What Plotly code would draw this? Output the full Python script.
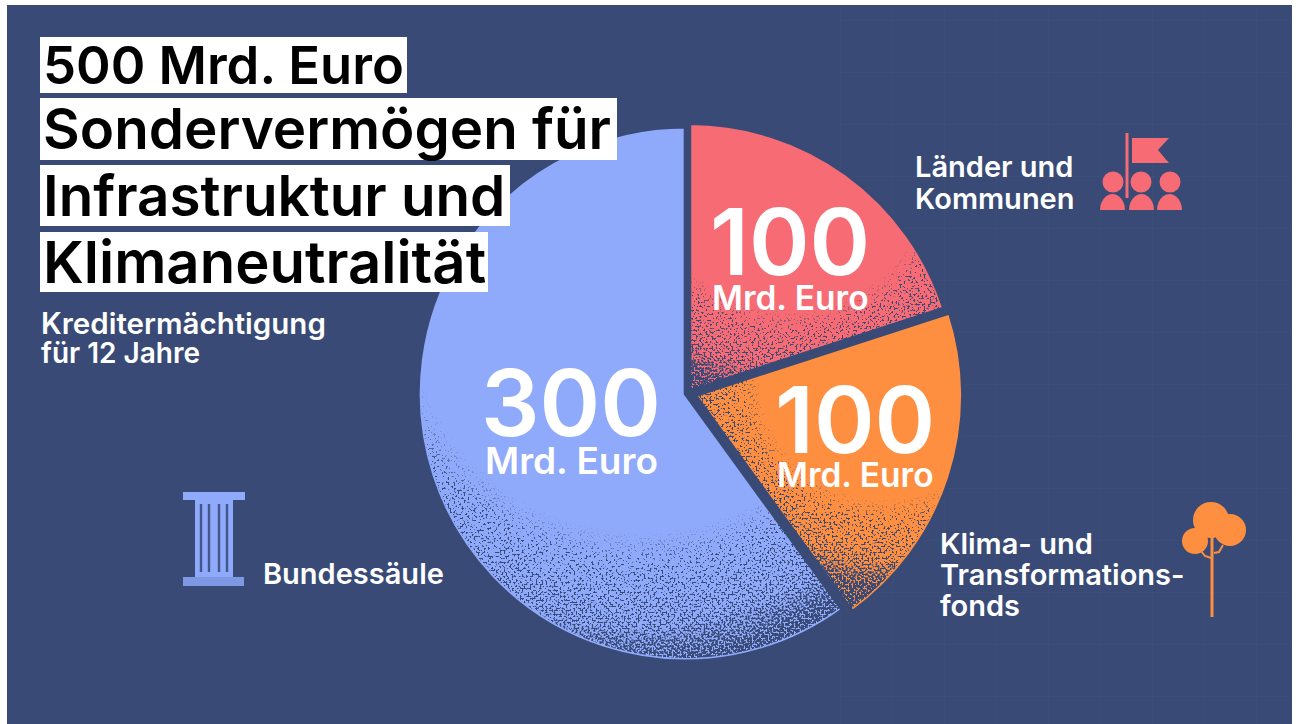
import base64, math
import plotly.graph_objects as go

# ---- data ----
categories = ["Länder und Kommunen", "Klima- und Transformationsfonds", "Bundessäule"]
values = [100, 100, 300]
slice_colors = ["#f66b74", "#ff8f40", "#8fa9fb"]
pulls = [0.011, 0.03, 0.011]
unit = "Mrd. Euro"
title_lines = ["500 Mrd. Euro", "Sondervermögen für", "Infrastruktur und", "Klimaneutralität"]
subtitle_lines = ["Kreditermächtigung", "für 12 Jahre"]

W, H = 1296, 724
NAVY = "#384a75"
FONT = "Inter"
CX, CY, R = 688, 393, 267


def px(x):
    return x / W


def py(y):
    return 1 - y / H


half = R * (1 + max(pulls))
pie = go.Pie(
    labels=categories, values=values, sort=False, direction="clockwise", rotation=0,
    pull=pulls, textinfo="none", showlegend=False, hoverinfo="label+value",
    marker=dict(colors=slice_colors, line=dict(color=NAVY, width=3)),
    domain=dict(x=[px(CX - half), px(CX + half)], y=[py(CY + half), py(CY - half)]),
)
fig = go.Figure(pie)

# ---- grain texture: SVG turbulence, clipped to the wedges ----
total = sum(values)
ang = 0
clips = ""
for i, v in enumerate(values):
    a0, a1 = ang, ang + v / total * 2 * math.pi
    ang = a1
    mid = (a0 + a1) / 2
    ox = CX + R * pulls[i] * math.sin(mid)
    oy = CY - R * pulls[i] * math.cos(mid)
    x0, y0 = ox + 264 * math.sin(a0), oy - 264 * math.cos(a0)
    x1, y1 = ox + 264 * math.sin(a1), oy - 264 * math.cos(a1)
    large = 1 if a1 - a0 > math.pi else 0
    clips += (f'<clipPath id="c{i}"><path d="M{ox:.1f} {oy:.1f}L{x0:.1f} {y0:.1f}'
              f'A264 264 0 {large} 1 {x1:.1f} {y1:.1f}Z"/></clipPath>')


def grad(name, cx, cy, r, start, peak):
    return (f'<radialGradient id="{name}" gradientUnits="userSpaceOnUse" cx="{cx}" cy="{cy}" r="{r}">'
            f'<stop offset="{start}" stop-color="#000" stop-opacity="0"/>'
            f'<stop offset="1" stop-color="#000" stop-opacity="{peak}"/></radialGradient>')


svg = f'''<svg xmlns="http://www.w3.org/2000/svg" width="{W}" height="{H}" viewBox="0 0 {W} {H}">
<defs>{clips}
{grad("gb", 640, 300, 362, 0.64, 0.68)}
{grad("go", 885, 375, 225, 0.55, 0.8)}
{grad("gr", 790, 170, 240, 0.58, 0.8)}
<filter id="n" x="0" y="0" width="100%" height="100%" color-interpolation-filters="sRGB">
<feTurbulence type="fractalNoise" baseFrequency="0.5" numOctaves="3" seed="7" result="t"/>
<feColorMatrix in="t" type="matrix" values="0 0 0 0 0 0 0 0 0 0 0 0 0 0 0 3.2 0 0 0 -1.1" result="na"/>
<feComposite in="SourceAlpha" in2="na" operator="arithmetic" k1="0" k2="1" k3="1" k4="-1" result="s"/>
<feComponentTransfer in="s" result="th"><feFuncA type="linear" slope="6" intercept="0"/></feComponentTransfer>
<feFlood flood-color="{NAVY}"/><feComposite in2="th" operator="in"/>
<feGaussianBlur stdDeviation="0.5"/>
</filter></defs>
<g clip-path="url(#c2)"><rect width="{W}" height="{H}" fill="url(#gb)" filter="url(#n)"/></g>
<g clip-path="url(#c1)"><rect width="{W}" height="{H}" fill="url(#go)" filter="url(#n)"/></g>
<g clip-path="url(#c0)"><rect width="{W}" height="{H}" fill="url(#gr)" filter="url(#n)"/></g>
</svg>'''
grain_src = "data:image/svg+xml;base64," + base64.b64encode(svg.encode()).decode()

shapes = []


def rect(x0, y0, x1, y1, color, layer="above"):
    shapes.append(dict(type="rect", xref="paper", yref="paper", x0=px(x0), x1=px(x1), y0=py(y1), y1=py(y0),
                       fillcolor=color, line=dict(width=0), layer=layer))


def circle(cx, cy, r, color):
    shapes.append(dict(type="circle", xref="paper", yref="paper", x0=px(cx - r), x1=px(cx + r),
                       y0=py(cy + r), y1=py(cy - r), fillcolor=color, line=dict(width=0), layer="above"))


def path(points, color, close=True, width=0):
    d = "M" + "L".join(f"{px(a):.5f},{py(b):.5f}" for a, b in points) + ("Z" if close else "")
    shapes.append(dict(type="path", xref="paper", yref="paper", path=d,
                       fillcolor=color if close else None,
                       line=dict(width=width, color=color), layer="above"))


# page panel and faint background grid
rect(7, 5, 1292, 724, NAVY, "below")
for gx in range(840, 1290, 52):
    rect(gx, 5, gx + 1, 724, "rgba(255,255,255,0.025)", "below")
for gy in range(20, 724, 52):
    rect(840, gy, 1292, gy + 1, "rgba(255,255,255,0.025)", "below")

# people + flag icon
RED = slice_colors[0]
rect(1125.5, 133, 1128.5, 198, RED)
path([(1132, 138), (1169, 138), (1158, 150), (1169, 163), (1132, 163)], RED)
for hx, (b0, b1) in zip([1113, 1141, 1170], [(1100, 1125), (1129, 1154), (1157, 1182)]):
    circle(hx, 182, 10.5, RED)
    m = (b0 + b1) / 2
    r = (b1 - b0) / 2
    pts = [(m - r * math.cos(t / 12 * math.pi), 210 - 16 * math.sin(t / 12 * math.pi)) for t in range(13)]
    path(pts, RED)

# tree icon
ORANGE = slice_colors[1]
rect(1210.5, 533, 1213.5, 617, ORANGE)
path([(1201, 551), (1205, 556), (1211, 558)], ORANGE, close=False, width=2)
path([(1214, 553), (1219, 552), (1223, 545)], ORANGE, close=False, width=2)
circle(1211, 520, 18, ORANGE)
circle(1230, 530, 16, ORANGE)
circle(1195, 541, 13, ORANGE)

# column icon
BLUE = slice_colors[2]
rect(183, 492, 245, 500, BLUE)
rect(195, 500, 233, 577, BLUE)
rect(183, 577, 244, 586, "#7f98e4")
for fx in [201, 209, 219, 227]:
    rect(fx - 1.2, 504, fx + 1.2, 572, "#44578a")

# white title boxes
title_boxes = [(37, 93, 407), (98, 160, 617), (165, 226, 510), (232, 292, 488)]
for y0, y1, x1 in title_boxes:
    rect(40, y0, x1, y1, "white")

# ---- text ----
anns = []


def text(x, y, s, size, color="white", weight=600, anchor="left"):
    anns.append(dict(xref="paper", yref="paper", x=px(x), y=py(y), text=s, showarrow=False,
                     xanchor=anchor, yanchor="middle", align=anchor, borderpad=0,
                     font=dict(family=FONT, size=size, color=color, weight=weight)))


title_sizes = [52.5, 56.5, 56.5, 58]
for line, (y0, y1, x1), size in zip(title_lines, title_boxes, title_sizes):
    text(42, (y0 + y1) / 2, line, size, "black")

text(40, 323, subtitle_lines[0], 29.5)
text(40, 353, subtitle_lines[1], 28)

big = [(790, 242, 298, values[0], 33.5), (855, 419, 475, values[1], 33.5), (571, 402, 460, values[2], 37)]
for cx, y_big, y_unit, v, unit_size in big:
    text(cx, y_big, str(v), 92, anchor="center")
    text(cx, y_unit, unit, unit_size, anchor="center")

text(914, 166, "Länder und", 29)
text(914, 198, "Kommunen", 29)
text(939, 543, "Klima- und", 29)
text(939, 574, "Transformations-", 29)
text(939, 605, "fonds", 29)
text(262, 573, "Bundessäule", 29)

fig.update_layout(
    width=W, height=H, autosize=False, margin=dict(l=0, r=0, t=0, b=0),
    paper_bgcolor="white", plot_bgcolor="white", showlegend=False,
    shapes=shapes, annotations=anns,
    images=[dict(source=grain_src, xref="paper", yref="paper", x=0, y=1, sizex=1, sizey=1,
                 xanchor="left", yanchor="top", sizing="stretch", layer="above")],
)
fig.write_html("out.html", config=dict(displayModeBar=False),
               post_script="document.body.style.margin='0';document.documentElement.style.overflow='hidden';")
